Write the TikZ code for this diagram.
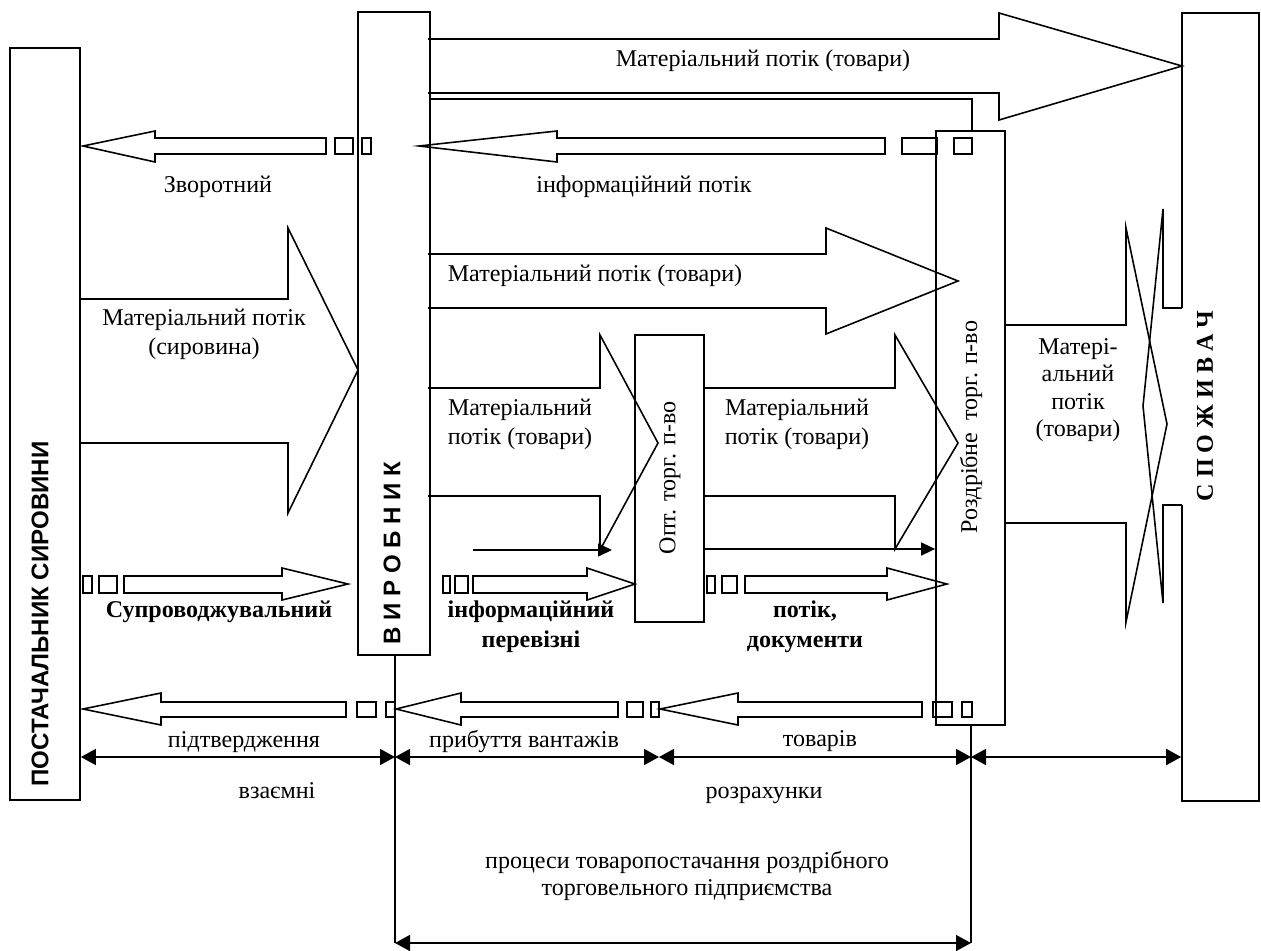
\documentclass[tikz,border=0pt]{standalone}
\usepackage{fontspec}
\setmainfont{Liberation Serif}
\setsansfont{Liberation Sans}
\usetikzlibrary{arrows.meta, fit}

\begin{document}
\begin{tikzpicture}[x=0.02cm, y=-0.02cm, line width=0.9pt,
      every node/.append style={inner sep=0pt, align=center,
        font=\fontsize{13.7}{16.4}\selectfont},
      box/.style={draw, line width=1pt, fit={#1}},
      boldtxt/.style={font=\fontsize{13.7}{17}\selectfont\bfseries},
      side/.style={rotate=90, font=\fontsize{13.7}{16}\selectfont\sffamily\bfseries},
      dimline/.style={{Triangle[length=0.3cm,width=0.32cm]}-{Triangle[length=0.3cm,width=0.32cm]}},
      pointer/.style={-{Triangle[length=0.28cm,width=0.26cm]}}]
  \useasboundingbox (0,0) rectangle (1261,950);

  % participants
  \node[box={(10,48) (80,800)}] (supplier) {};
  \node[box={(358,12) (430,655)}] (producer) {};
  \node[box={(635,335) (704,622)}] (wholesale) {};
  \node[box={(936,131) (1005,725)}] (retail) {};
  \node[fit={(1182,13) (1259,801)}] (consumer) {};
  \draw[line width=1pt] (1182,308) -- (1182,13) -- (1259,13) -- (1259,801) -- (1182,801) -- (1182,505);

  \node[side] (tSupplier) at (40,614) {ПОСТАЧАЛЬНИК СИРОВИНИ};
  \node[side] (tProducer) at (392,553) {В И Р О Б Н И К};
  \node[rotate=90] (tWholesale) at (670,478) {Опт. торг. п-во};
  \node[rotate=90] (tRetail) at (971,427) {Роздрібне\ \ торг. п-во};
  \node[rotate=90, boldtxt] (tConsumer) at (1205,406) {С П О Ж И В А Ч};

  % material flows
  \draw (428,39) -- (999,39) -- (999,13) -- (1182,66) -- (999,120) -- (999,93) -- (428,93);
  \draw (80,299) -- (288,299) -- (288,228) -- (358,370) -- (288,513) -- (288,443) -- (80,443);
  \draw (428,254) -- (826,254) -- (826,228) -- (958,281) -- (826,334) -- (826,308) -- (428,308);
  \draw (428,388) -- (600,388) -- (600,335) -- (658,443) -- (600,550) -- (600,496) -- (428,496);
  \draw (704,388) -- (895,388) -- (895,335) -- (958,443) -- (895,549) -- (895,496) -- (704,496);
  \draw (1182,308) -- (1163,308) -- (1163,209) -- (1143,406) -- (1163,603) -- (1163,505) -- (1182,505);
  \draw (1005,325) -- (1126,325) -- (1126,228) -- (1167,424) -- (1126,622) -- (1126,523) -- (1005,523);

  \draw (producer.east |- 0,99) -| (972,0 |- retail.north);
  \draw[pointer] (473,550) -- (612,550);
  \draw[pointer] (wholesale.east |- 0,549) -- (retail.west |- 0,549);

  % information flows
  \draw (885,138) -- (557,138) -- (557,131) -- (419,146) -- (557,162) -- (557,154) -- (885,154) -- cycle
        (902,138) rectangle (937,154) (954,138) rectangle (972,154);
  \draw (326,138) -- (155,138) -- (155,131) -- (83,146) -- (155,162) -- (155,154) -- (326,154) -- cycle
        (335,138) rectangle (353,154) (362,138) rectangle (371,154);

  \draw (124,576) -- (282,576) -- (282,568) -- (348,584) -- (282,600) -- (282,593) -- (124,593) -- cycle
        (83,576) rectangle (92,593) (99,576) rectangle (117,593);
  \draw (473,576) -- (587,576) -- (587,568) -- (635,584) -- (587,600) -- (587,593) -- (473,593) -- cycle
        (443,576) rectangle (450,593) (455,576) rectangle (468,593);
  \draw (745,576) -- (887,576) -- (887,568) -- (947,584) -- (887,600) -- (887,593) -- (745,593) -- cycle
        (707,576) rectangle (715,593) (722,576) rectangle (737,593);

  \draw (346,702) -- (161,702) -- (161,693) -- (83,709) -- (161,725) -- (161,717) -- (346,717) -- cycle
        (357,702) rectangle (376,717) (386,702) rectangle (395,717);
  \draw (618,702) -- (461,702) -- (461,693) -- (396,709) -- (461,725) -- (461,717) -- (618,717) -- cycle
        (627,702) rectangle (643,717) (651,702) rectangle (659,717);
  \draw (922,702) -- (738,702) -- (738,693) -- (660,709) -- (738,725) -- (738,717) -- (922,717) -- cycle
        (933,702) rectangle (952,717) (962,702) rectangle (972,717);

  % settlements
  \coordinate (p0) at (395,655);
  \coordinate (p1) at (395,757);
  \coordinate (p2) at (395,943);
  \coordinate (w1) at (659,757);
  \coordinate (r1) at (971,757);
  \coordinate (r2) at (971,943);
  \coordinate (s1) at (supplier.east |- p1);
  \coordinate (c1) at (consumer.west |- p1);
  \draw (p0) -- (p2) (retail.south -| r1) -- (r2);
  \draw[dimline] (s1) -- (p1);
  \draw[dimline] (p1) -- (w1);
  \draw[dimline] (w1) -- (r1);
  \draw[dimline] (r1) -- (c1);
  \draw[dimline] (p2) -- (r2);

  % labels
  \node (tGoods1) at (763,61) {Матеріальний потік (товари)};
  \node (tBack1) at (218,187) {Зворотний};
  \node (tBack2) at (644,187) {інформаційний потік};
  \node (tGoods2) at (595,276) {Матеріальний потік (товари)};
  \node (tRaw) at (204,334) {Матеріальний потік\\(сировина)};
  \node (tGoods3) at (520,424) {Матеріальний\\потік (товари)};
  \node (tGoods4) at (797,424) {Матеріальний\\потік (товари)};
  \node[font=\fontsize{13.7}{15.7}\selectfont] (tGoods5) at (1078,390) {Матері-\\альний\\потік\\(товари)};
  \node[boldtxt] (tDoc1) at (219,612) {Супроводжувальний};
  \node[boldtxt] (tDoc2) at (531,627) {інформаційний\\перевізні};
  \node[boldtxt] (tDoc3) at (805,627) {потік,\\документи};
  \node (tConf1) at (244,742) {підтвердження};
  \node (tConf2) at (524,741) {прибуття вантажів};
  \node (tConf3) at (820,741) {товарів};
  \node (tPay1) at (277,791) {взаємні};
  \node (tPay2) at (764,795) {розрахунки};
  \node[font=\fontsize{13.7}{15.4}\selectfont] (tProc) at (687,876) {процеси товаропостачання роздрібного\\торговельного підприємства};
\end{tikzpicture}
\end{document}
